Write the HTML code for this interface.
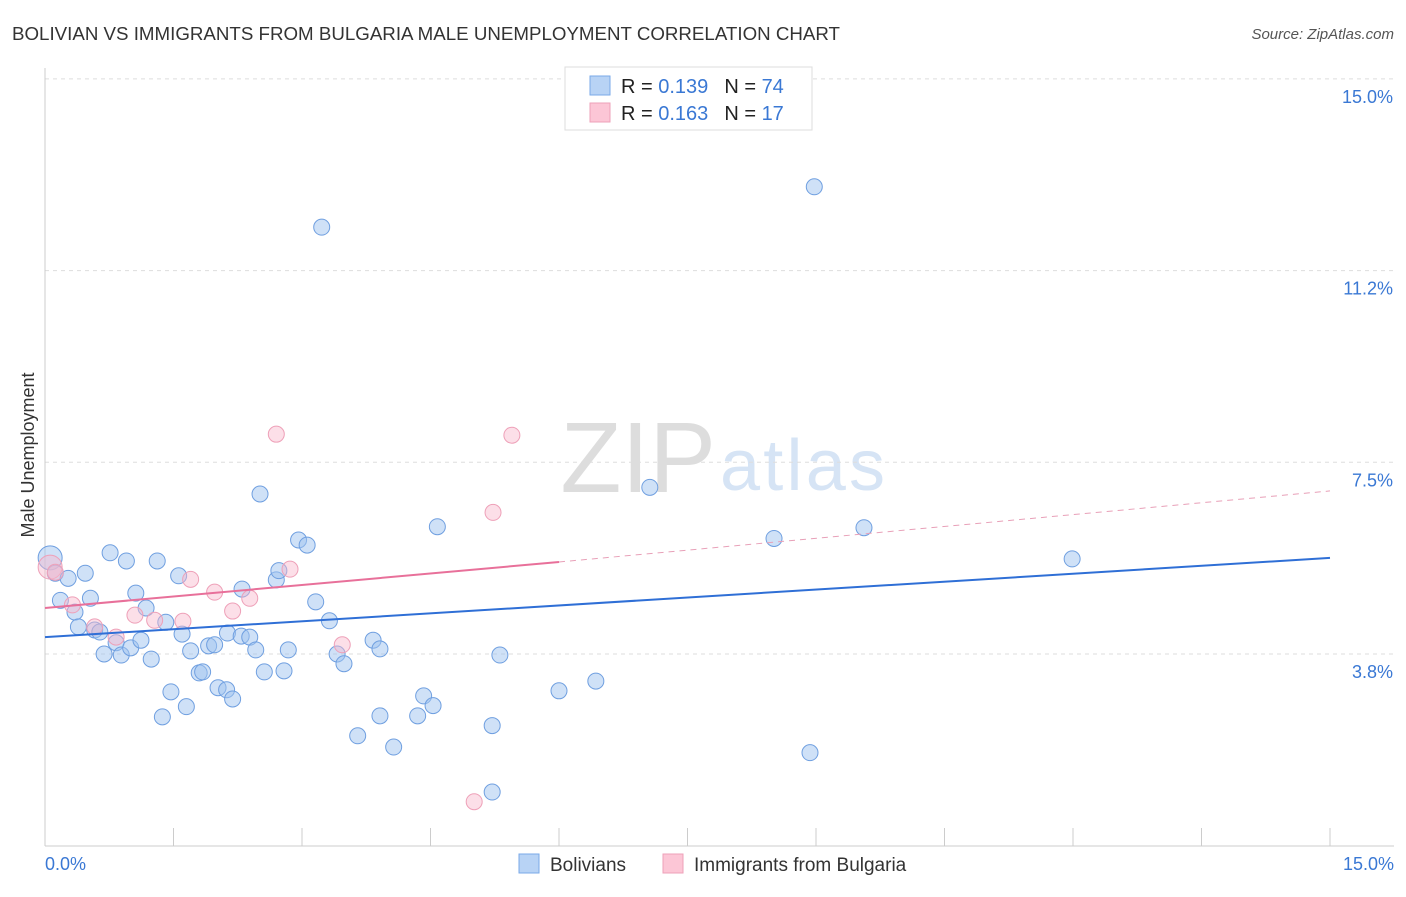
<!DOCTYPE html>
<html><head><meta charset="utf-8"><style>
body{margin:0;background:#fff;font-family:"Liberation Sans",sans-serif;}
svg text{font-family:"Liberation Sans",sans-serif;}
</style></head><body>
<svg id="c" width="1406" height="892" xmlns="http://www.w3.org/2000/svg">
<text x="12" y="40" font-size="18" fill="#333" textLength="828" lengthAdjust="spacingAndGlyphs">BOLIVIAN VS IMMIGRANTS FROM BULGARIA MALE UNEMPLOYMENT CORRELATION CHART</text>
<text x="1394" y="39" font-size="15" fill="#555" font-style="italic" text-anchor="end">Source: ZipAtlas.com</text>
<text x="716" y="492" font-size="100" fill="#ddd" text-anchor="end" font-family="Liberation Serif">ZIP</text>
<text x="720" y="490" font-size="72" fill="#d6e4f5" textLength="165">atlas</text>
<g id="grid"></g><g id="marks"></g>
<text transform="translate(34,455) rotate(-90)" font-size="18" fill="#333" text-anchor="middle">Male Unemployment</text>
<text x="45" y="870" font-size="18" fill="#3a78d4">0.0%</text>
<text x="1394" y="870" font-size="18" fill="#3a78d4" text-anchor="end">15.0%</text>
<g>
<rect x="565" y="67" width="247" height="63" fill="#fff" stroke="#ddd"/>
<rect x="590" y="76" width="20" height="19" fill="#b8d3f5" stroke="#7aaae8"/>
<rect x="590" y="103" width="20" height="19" fill="#fcc6d6" stroke="#eea0b8"/>
<text x="621" y="93" font-size="20" fill="#222">R = <tspan fill="#3a78d4">0.139</tspan><tspan dx="16">N = </tspan><tspan fill="#3a78d4">74</tspan></text>
<text x="621" y="120" font-size="20" fill="#222">R = <tspan fill="#3a78d4">0.163</tspan><tspan dx="16">N = </tspan><tspan fill="#3a78d4"> 17</tspan></text>
</g>
<g>
<rect x="519" y="854" width="20" height="19" fill="#b8d3f5" stroke="#7aaae8"/>
<text x="550" y="871" font-size="19" fill="#333">Bolivians</text>
<rect x="663" y="854" width="20" height="19" fill="#fcc6d6" stroke="#eea0b8"/>
<text x="694" y="871" font-size="19" fill="#333">Immigrants from Bulgaria</text>
</g>
</svg>
<script>
const yTicks=[3.75,7.5,11.25,15];
const yTickLabels=["3.8%","7.5%","11.2%","15.0%"];
const xTicks=[0,1.5,3,4.5,6,7.5,9,10.5,12,13.5,15];
const blueX=[0.06,0.12,0.27,0.47,0.18,0.53,0.35,0.39,0.58,0.64,0.76,0.95,1.31,1.06,1.18,1.41,1.56,0.83,0.69,0.89,1.00,1.12,1.24,1.60,1.70,1.47,1.37,1.65,1.80,1.84,1.91,1.98,2.02,2.12,2.19,2.13,2.29,2.39,2.30,2.46,2.56,2.51,2.70,2.73,2.79,2.84,2.96,3.06,3.16,3.32,3.41,3.49,3.23,3.83,3.91,3.65,3.91,4.07,4.35,4.42,4.53,4.58,5.22,5.31,5.22,6.00,6.43,7.06,8.51,8.93,8.98,9.56,11.99];
const blueY=[5.63,5.33,5.23,5.33,4.80,4.84,4.57,4.28,4.22,4.18,5.73,5.57,5.57,4.94,4.65,4.37,5.28,3.97,3.75,3.73,3.87,4.02,3.65,4.14,3.81,3.01,2.52,2.72,3.38,3.40,3.91,3.93,3.09,3.05,2.87,4.16,4.10,4.08,5.02,3.83,3.40,6.88,5.20,5.38,3.42,3.83,5.98,5.88,4.77,4.40,3.75,3.56,12.10,4.02,3.85,2.15,2.54,1.93,2.54,2.93,2.74,6.24,2.35,3.73,1.05,3.03,3.22,7.01,6.01,1.82,12.89,6.22,5.61];
const pinkX=[0.06,0.12,0.32,0.58,0.83,1.05,1.28,1.61,1.70,1.98,2.19,2.39,2.86,3.47,2.70,5.45,5.23,5.01];
const pinkY=[5.45,5.35,4.71,4.28,4.08,4.51,4.41,4.39,5.21,4.96,4.59,4.84,5.41,3.93,8.05,8.03,6.52,0.86];
const blueTrend=[4.08,5.63];
const pinkTrend=[4.65,5.55,6.94];
const X=v=>45+v*(1285/15), Y=v=>845.7-v*51.12;
const NS="http://www.w3.org/2000/svg";
function mk(p,t,a){const e=document.createElementNS(NS,t);for(const k in a)e.setAttribute(k,a[k]);p.appendChild(e);return e;}
const g=document.getElementById('grid'),m=document.getElementById('marks');
yTicks.forEach((t,i)=>{const l=mk(g,'line',{x1:45,x2:1394,y1:Y(t),y2:Y(t),stroke:'#ddd','stroke-dasharray':'4,4'});


const tx=mk(g,'text',{x:1393,y:Y(t)+24,'font-size':18,fill:'#3a78d4','text-anchor':'end'});tx.textContent=yTickLabels[i];

});
const ax=mk(g,'line',{x1:45,x2:45,y1:68,y2:846,stroke:'#ccc'});


const bx=mk(g,'line',{x1:45,x2:1394,y1:846,y2:846,stroke:'#ccc'});


xTicks.forEach(t=>{const l=mk(g,'line',{x1:X(t),x2:X(t),y1:828,y2:846,stroke:'#ccc'});

});
function pts(xs,ys,fill,stroke,name){xs.forEach((x,i)=>{const c=mk(m,'circle',{cx:X(x),cy:Y(ys[i]),r:i==0?12:8,fill:fill,stroke:stroke,'stroke-width':1});

});}
pts(blueX,blueY,'rgba(160,195,240,0.5)','#6f9fe0','bolivian-point');
pts(pinkX,pinkY,'rgba(248,185,205,0.45)','#eea0b8','bulgaria-point');
const bl=mk(m,'line',{x1:X(0),y1:Y(blueTrend[0]),x2:X(15),y2:Y(blueTrend[1]),stroke:'#2f6fd6','stroke-width':2});


const pl=mk(m,'line',{x1:X(0),y1:Y(pinkTrend[0]),x2:X(6),y2:Y(pinkTrend[1]),stroke:'#e8709a','stroke-width':2});


const pd=mk(m,'line',{x1:X(6),y1:Y(pinkTrend[1]),x2:X(15),y2:Y(pinkTrend[2]),stroke:'#e8a0b8','stroke-width':1,'stroke-dasharray':'6,5'});


</script>
</body></html>
